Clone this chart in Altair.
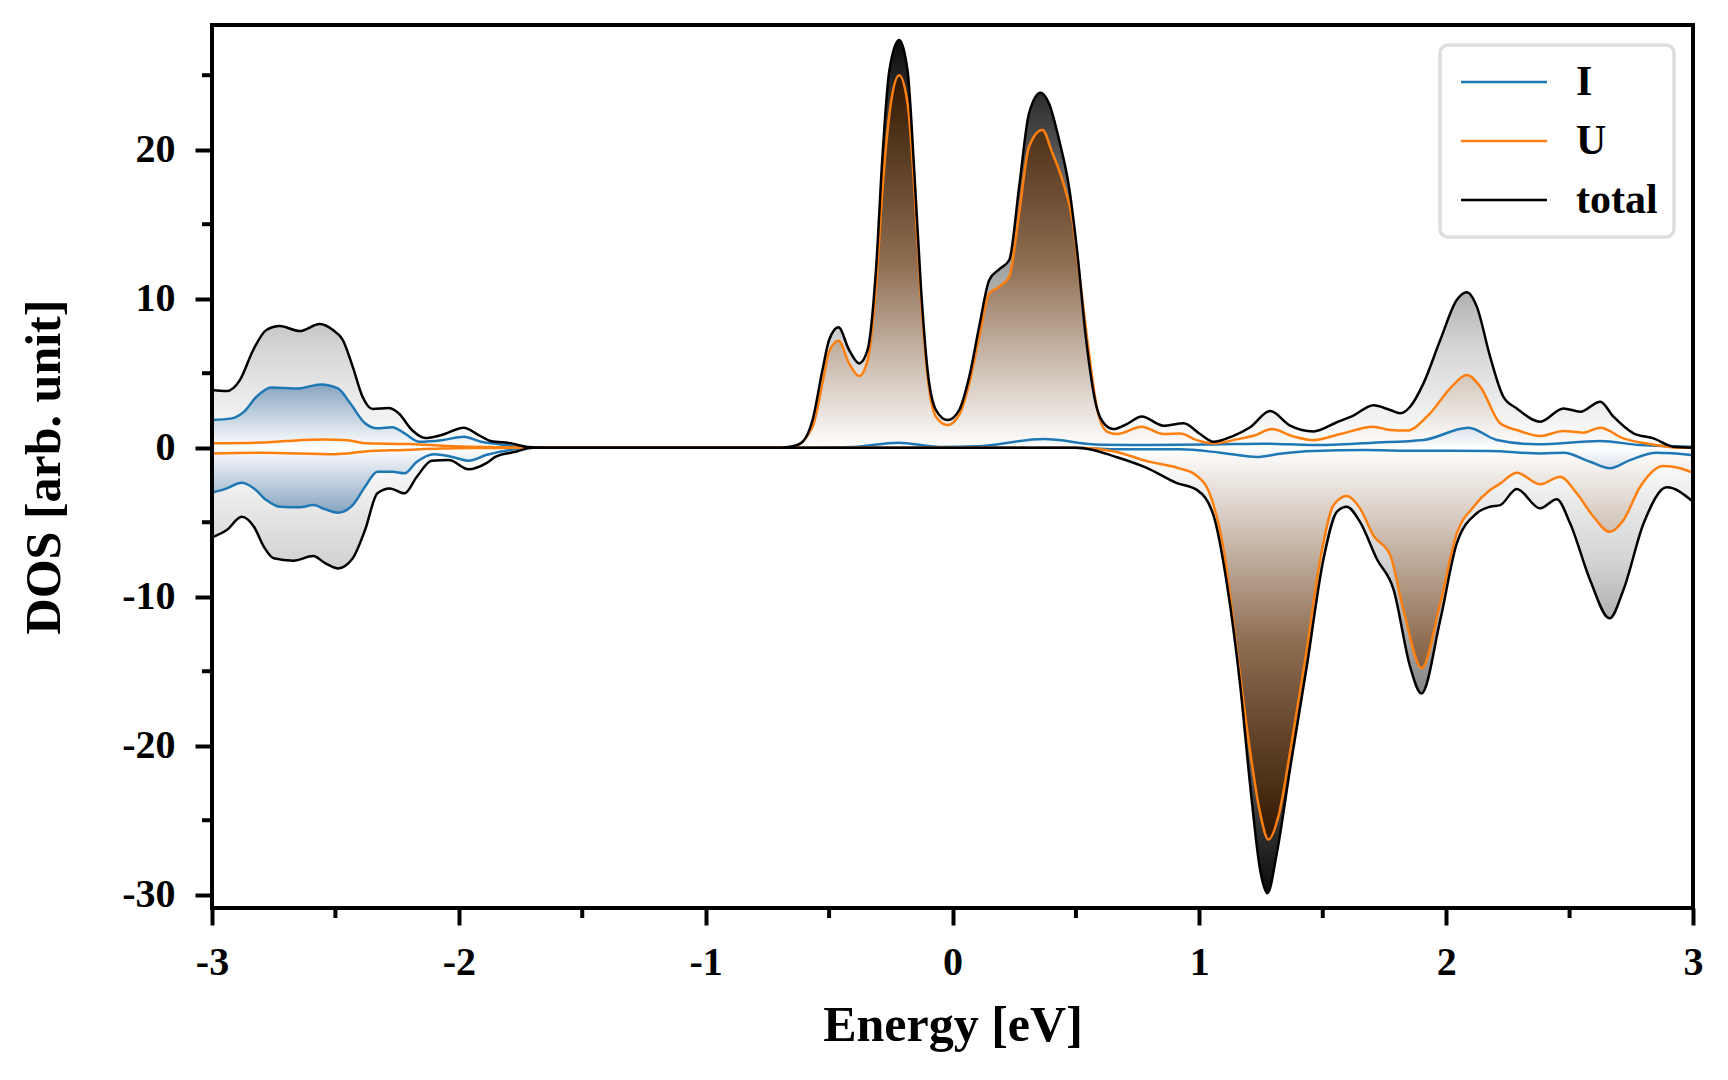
import altair as alt
import pandas as pd

# ---------------- data ----------------
E_TOT_UP = [-3.0, -2.94, -2.887, -2.833, -2.78, -2.725, -2.645, -2.564, -2.51, -2.47, -2.43, -2.39, -2.35, -2.285,
            -2.245, -2.19, -2.136, -2.07, -1.98, -1.92, -1.87, -1.79, -1.72, -1.65, -0.70, -0.647, -0.607, -0.567,
            -0.527, -0.50, -0.462, -0.419, -0.378, -0.344, -0.31, -0.283, -0.256, -0.216, -0.182, -0.155, -0.128,
            -0.101, -0.067, -0.02, 0.027, 0.068, 0.108, 0.149, 0.189, 0.23, 0.27, 0.31, 0.357, 0.391, 0.432, 0.472,
            0.506, 0.54, 0.58, 0.62, 0.652, 0.706, 0.767, 0.855, 0.936, 1.003, 1.057, 1.138, 1.206, 1.287, 1.368,
            1.462, 1.557, 1.624, 1.705, 1.773, 1.814, 1.854, 1.908, 1.976, 2.043, 2.084, 2.124, 2.178, 2.232, 2.286,
            2.381, 2.475, 2.543, 2.624, 2.678, 2.759, 2.84, 2.921, 3.0]
TOT_UP = [3.87, 3.8, 4.54, 6.56, 7.9, 8.17, 7.83, 8.3, 7.9, 7.23, 5.44, 3.42, 2.6, 2.66, 2.33, 1.19, 0.65, 0.85, 1.34,
          0.85, 0.45, 0.3, 0.05, 0, 0, 0.1, 0.4, 1.86, 5.2, 7.23, 8.08, 6.56, 5.66, 6.56, 11.93, 19.76, 25.3, 27.36,
          25.3, 18.6, 10.8, 5.2, 2.53, 1.86, 2.53, 4.77, 8.12, 11.26, 11.97, 12.6, 17.5, 22.44, 23.83, 23.1, 20.65,
          17.5, 13.05, 7.45, 2.98, 1.52, 1.25, 1.59, 2.09, 1.48, 1.64, 0.92, 0.4, 0.8, 1.37, 2.46, 1.48, 1.09, 1.71,
          2.16, 2.85, 2.53, 2.31, 2.75, 4.32, 7.23, 9.91, 10.43, 9.47, 6.11, 3.42, 2.64, 1.75, 2.64, 2.42, 3.09, 2.08,
          0.97, 0.63, 0.07, 0.0]

E_U_UP = [-3.0, -2.8, -2.7, -2.55, -2.45, -2.38, -2.2, -2.05, -1.9, -1.7, -0.70, -0.647, -0.567, -0.527, -0.50, -0.462,
          -0.419, -0.378, -0.344, -0.31, -0.283, -0.25, -0.216, -0.182, -0.155, -0.128, -0.101, -0.067, -0.02, 0.027,
          0.068, 0.108, 0.149, 0.189, 0.23, 0.27, 0.31, 0.364, 0.405, 0.445, 0.486, 0.52, 0.553, 0.587, 0.627, 0.666,
          0.767, 0.855, 0.922, 0.99, 1.057, 1.152, 1.219, 1.294, 1.381, 1.462, 1.571, 1.705, 1.773, 1.84, 1.935,
          2.016, 2.084, 2.138, 2.219, 2.286, 2.381, 2.475, 2.556, 2.624, 2.718, 2.826, 2.948, 3.0]
U_UP = [0.3, 0.35, 0.45, 0.55, 0.5, 0.3, 0.25, 0.12, 0.05, 0, 0, 0.05, 1.41, 4.32, 6.44, 7.18, 5.66, 4.81, 5.86, 10.8,
        17.5, 23.1, 25.0, 23.1, 17.5, 10.13, 4.77, 2.08, 1.52, 2.2, 4.32, 7.45, 10.36, 10.8, 11.48, 15.73, 20.2, 21.32,
        19.76, 17.97, 15.28, 10.8, 6.34, 2.53, 1.07, 0.92, 1.41, 0.92, 0.96, 0.51, 0.28, 0.56, 0.8, 1.25, 0.76, 0.51,
        0.92, 1.41, 1.19, 1.15, 2.31, 3.99, 4.88, 4.1, 1.64, 1.19, 0.79, 1.12, 1.01, 1.34, 0.63, 0.25, 0.0, 0.0]

E_I_UP = [-3.0, -2.92, -2.87, -2.82, -2.76, -2.65, -2.56, -2.49, -2.44, -2.38, -2.33, -2.27, -2.22, -2.16, -2.07, -1.98,
          -1.91, -1.85, -1.75, -1.7, -0.6, -0.4, -0.22, -0.05, 0.1, 0.37, 0.6, 0.8, 1.06, 1.26, 1.46, 1.705, 1.908,
          2.09, 2.205, 2.367, 2.624, 2.786, 3.0]
I_UP = [1.86, 1.97, 2.42, 3.42, 4.05, 3.98, 4.25, 3.98, 2.98, 1.64, 1.3, 1.37, 0.97, 0.4, 0.5, 0.74, 0.4, 0.26, 0.05, 0,
        0, 0.05, 0.34, 0.05, 0.1, 0.58, 0.2, 0.18, 0.22, 0.27, 0.18, 0.34, 0.52, 1.34, 0.52, 0.23, 0.45, 0.18, 0.07]

E_TOT_DN = [-3.0, -2.94, -2.88, -2.83, -2.79, -2.75, -2.67, -2.59, -2.54, -2.49, -2.43, -2.38, -2.33, -2.28, -2.22,
            -2.17, -2.11, -2.04, -1.96, -1.89, -1.85, -1.77, -1.70, 0.50, 0.57, 0.652, 0.787, 0.909, 0.99, 1.057,
            1.111, 1.165, 1.206, 1.246, 1.276, 1.314, 1.368, 1.435, 1.503, 1.557, 1.597, 1.651, 1.719, 1.787, 1.854,
            1.90, 1.976, 2.043, 2.124, 2.178, 2.219, 2.286, 2.381, 2.448, 2.502, 2.583, 2.662, 2.718, 2.8, 2.894, 3.0]
TOT_DN = [-6.01, -5.52, -4.63, -5.3, -6.64, -7.42, -7.58, -7.27, -7.76, -8.1, -7.42, -5.52, -3.06, -2.73, -3.06, -1.95,
          -0.87, -0.83, -1.45, -1.05, -0.6, -0.27, 0, 0, -0.15, -0.56, -1.35, -2.37, -2.83, -4.52, -9.06, -15.86,
          -22.66, -28.3, -29.9, -27.2, -21.5, -14.7, -7.47, -4.3, -3.96, -4.98, -7.47, -9.52, -14.7, -16.5, -11.56,
          -6.42, -4.4, -3.96, -3.85, -2.77, -4.07, -3.46, -5.07, -8.88, -11.45, -9.55, -5.07, -2.66, -3.62]

E_U_DN = [-3.0, -2.8, -2.5, -2.38, -2.22, -2.07, -1.9, -1.7, 0.5, 0.652, 0.787, 0.922, 0.983, 1.044, 1.098, 1.152,
          1.206, 1.246, 1.28, 1.321, 1.368, 1.435, 1.49, 1.544, 1.597, 1.651, 1.705, 1.773, 1.827, 1.901, 1.976, 2.043,
          2.111, 2.178, 2.219, 2.286, 2.381, 2.462, 2.529, 2.597, 2.662, 2.718, 2.786, 2.88, 2.948, 3.0]
U_DN = [-0.38, -0.34, -0.43, -0.25, -0.15, -0.06, -0.02, 0, 0, -0.23, -0.9, -1.4, -1.8, -3.17, -6.79, -13.6, -20.4,
        -24.5, -26.3, -24.7, -20.4, -13.6, -7.47, -3.85, -3.24, -4.07, -5.89, -7.2, -10.9, -14.8, -10.44, -5.75, -3.96,
        -2.84, -2.4, -1.68, -2.45, -1.95, -3.06, -4.63, -5.64, -4.86, -2.62, -1.23, -1.38, -1.68]

E_I_DN = [-3.0, -2.94, -2.88, -2.83, -2.78, -2.725, -2.645, -2.59, -2.54, -2.49, -2.43, -2.38, -2.33, -2.27, -2.22,
          -2.17, -2.10, -2.03, -1.96, -1.89, -1.81, -1.72, 0.5, 0.652, 0.922, 1.084, 1.233, 1.327, 1.462, 1.665, 1.85,
          2.178, 2.381, 2.475, 2.583, 2.664, 2.745, 2.853, 3.0]
I_DN = [-3.02, -2.73, -2.35, -2.73, -3.51, -3.96, -4.0, -3.85, -4.14, -4.36, -3.85, -2.62, -1.61, -1.61, -1.72, -0.94,
        -0.43, -0.6, -0.87, -0.49, -0.2, 0, 0, -0.11, -0.11, -0.33, -0.62, -0.4, -0.22, -0.16, -0.2, -0.22, -0.38,
        -0.34, -0.94, -1.38, -0.83, -0.34, -0.5]

SPECIES = ["I", "U", "total"]
LINE_COLORS = ["#1f77b4", "#ff7f0e", "#000000"]
X_MAJOR = [-3, -2, -1, 0, 1, 2, 3]
X_MINOR = [-2.5, -1.5, -0.5, 0.5, 1.5, 2.5]
Y_MAJOR = [-30, -20, -10, 0, 10, 20]
Y_MINOR = [-25, -15, -5, 5, 15, 25]

# ---------------- table ----------------
def part(E, v, species, spin):
    return pd.DataFrame({"E": E, "v": v, "species": species, "spin": spin})

df = pd.concat([
    part(E_I_UP, I_UP, "I", "up"), part(E_I_DN, I_DN, "I", "down"),
    part(E_U_UP, U_UP, "U", "up"), part(E_U_DN, U_DN, "U", "down"),
    part(E_TOT_UP, TOT_UP, "total", "up"), part(E_TOT_DN, TOT_DN, "total", "down"),
], ignore_index=True)

W, H = 1481, 883
FONT = "Liberation Serif"

X = alt.X("E:Q", scale=alt.Scale(domain=[-3, 3], nice=False, zero=False),
          axis=alt.Axis(values=X_MAJOR, title="Energy [eV]", labelExpr="'' + datum.value",
                        tickSize=17, tickWidth=4, tickColor="black", domain=False, grid=False,
                        labelPadding=17, labelFontSize=40, labelFont=FONT, labelFontWeight="bold",
                        labelColor="black", labelOverlap=False, labelFlush=False,
                        titleFontSize=50, titleFont=FONT, titleFontWeight="bold", titleColor="black",
                        titleBaseline="alphabetic", titleY=132, titleX=W / 2, titleAlign="center", zindex=2))
Y = alt.Y("v:Q", scale=alt.Scale(domain=[-30.89, 28.37], nice=False, zero=False),
          axis=alt.Axis(values=Y_MAJOR, title="DOS [arb. unit]", labelExpr="'' + datum.value",
                        tickSize=17, tickWidth=4, tickColor="black", domain=False, grid=False,
                        labelPadding=20, labelFontSize=40, labelFont=FONT, labelFontWeight="bold",
                        labelColor="black", labelOverlap=False, labelFlush=False,
                        titleFontSize=50, titleFont=FONT, titleFontWeight="bold", titleColor="black",
                        titleBaseline="alphabetic", titleX=-153, titleY=H / 2, titleAlign="center", zindex=2))

GRAY = [(0, "#ffffff"), (0.25, "#d4d4d4"), (0.5, "#929292"), (0.75, "#4d4d4d"), (1, "#0a0a0a")]
BROWN = [(0, "#ffffff"), (0.5, "#8e6c50"), (1, "#301700")]
BLUE = [(0, "#ffffff"), (1, "#86a5c0")]

base = alt.Chart(df)


def area(species, spin, stops):
    y1, y2 = (1, 0) if spin == "up" else (0, 1)
    grad = {"gradient": "linear", "x1": 0, "x2": 0, "y1": y1, "y2": y2,
            "stops": [{"offset": o, "color": c} for o, c in stops]}
    return base.transform_filter(
        (alt.datum.species == species) & (alt.datum.spin == spin)
    ).mark_area(color=grad, interpolate="monotone").encode(x=X, y=Y, y2=alt.datum(0))


areas = [area("total", "up", GRAY), area("total", "down", GRAY),
         area("U", "up", BROWN), area("U", "down", BROWN),
         area("I", "up", BLUE), area("I", "down", BLUE)]

lines = base.mark_line(interpolate="monotone", strokeWidth=2.5).encode(
    x=X, y=Y,
    color=alt.Color("species:N", scale=alt.Scale(domain=SPECIES, range=LINE_COLORS),
                    legend=alt.Legend(title=None, orient="none", legendX=1228, legendY=20,
                                      symbolType="M-3,0L3,0", symbolSize=822, symbolStrokeWidth=2.5,
                                      symbolOffset=27,
                                      labelFont=FONT, labelFontWeight="bold", labelFontSize=42,
                                      labelColor="black", labelOffset=51, labelBaseline="middle",
                                      padding=16, rowPadding=17, fillColor="white",
                                      strokeColor="#dedede", cornerRadius=8)),
    detail="spin:N",
)

minor_x = alt.Chart(pd.DataFrame({"E": X_MINOR})).mark_rule(color="black", strokeWidth=4).encode(
    x=X, y=alt.value(H), y2=alt.value(H + 10))
minor_y = alt.Chart(pd.DataFrame({"v": Y_MINOR})).mark_rule(color="black", strokeWidth=4).encode(
    y=Y, x=alt.value(0), x2=alt.value(-10))

frame = alt.Chart(alt.Data(values=[{}])).mark_rect(
    fillOpacity=0, stroke="black", strokeWidth=4
).encode(x=alt.value(0), x2=alt.value(W), y=alt.value(0), y2=alt.value(H))

chart = alt.layer(*areas, lines, minor_x, minor_y, frame).properties(
    width=W, height=H,
    autosize=alt.AutoSizeParams(type="none"),
    padding={"left": 204, "top": 17, "right": 20, "bottom": 155},
).configure_view(stroke=None).configure_legend(strokeWidth=3.5)

chart.save("out.html", embed_options={"renderer": "svg", "actions": False})
